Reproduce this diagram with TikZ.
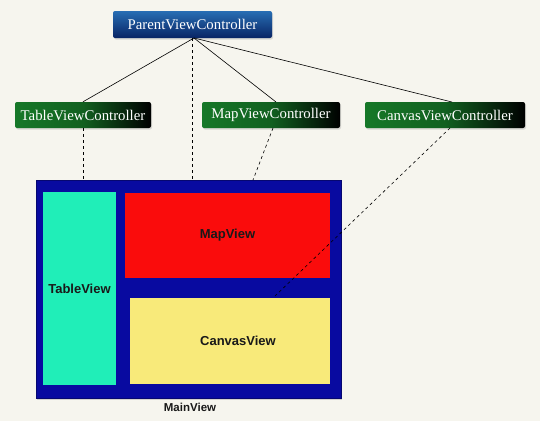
\documentclass[tikz,border=0pt]{standalone}
\usepackage{fontspec}
\setmainfont{Liberation Serif}
\setsansfont{Liberation Sans}
\usetikzlibrary{shadows}
\definecolor{bg}{RGB}{246,245,238}
\definecolor{frameblue}{RGB}{8,10,160}
\definecolor{mint}{RGB}{32,238,184}
\definecolor{mapred}{RGB}{250,12,12}
\definecolor{canvasyellow}{RGB}{248,234,122}
\definecolor{ptop}{RGB}{40,110,180}
\definecolor{pbot}{RGB}{8,36,100}
\definecolor{gleft}{RGB}{22,120,40}
\begin{document}
\begin{tikzpicture}[x=1pt,y=-1pt,
  ctrl/.style={rounded corners=2pt, text=white, font=\fontsize{14.8}{16}\selectfont,
    inner sep=0pt, drop shadow={opacity=0.25,shadow xshift=1pt,shadow yshift=-1.5pt}},
  parentbox/.style={ctrl, top color=ptop, bottom color=pbot},
  greenbox/.style={ctrl, left color=gleft, right color=black, middle color=gleft!80!black},
  link/.style={draw=black, line width=0.6pt},
  dlink/.style={draw=black, line width=0.6pt, dash pattern=on 3pt off 3pt},
  viewlabel/.style={font=\sffamily\bfseries\fontsize{13}{15}\selectfont, text=black!90},
]
\fill[bg] (0,0) rectangle (540,421);
\useasboundingbox (0,0) rectangle (540,421);

% controllers
\node[parentbox, minimum width=159pt, minimum height=27pt] (parent) at (192.5,24.5) {ParentViewController};
\node[greenbox, minimum width=136pt, minimum height=26pt] (tvc) at (83,115) {TableViewController};
\node[greenbox, minimum width=138pt, minimum height=26pt] (mvc) at (271,115) {MapViewController};
\node[greenbox, minimum width=160pt, minimum height=26pt] (cvc) at (445,115) {CanvasViewController};

% main view
\node[fill=frameblue, draw=frameblue!70!black, minimum width=305pt, minimum height=218pt, inner sep=0pt,
  drop shadow={opacity=0.3,shadow xshift=1pt,shadow yshift=-2pt}] (main) at (188.5,289) {};
\node[fill=mint, minimum width=73pt, minimum height=193pt, inner sep=0pt] (table) at (79.5,288.5) {};
\node[viewlabel] at (table.center) {TableView};
\node[fill=mapred, minimum width=205pt, minimum height=85pt, inner sep=0pt] (map) at (227.5,235.5) {};
\node[viewlabel] at (map.center) {MapView};
\node[fill=canvasyellow, minimum width=200pt, minimum height=86pt, inner sep=0pt] (canvas) at (230,341) {};
\node[viewlabel] at (238,341) {CanvasView};
\node[font=\sffamily\bfseries\fontsize{11.5}{13}\selectfont, text=black!90] (mainlbl) at (190,407) {MainView};

% connectors
\coordinate (pb) at (194,38);
\draw[link] (pb) -- (tvc.north);
\draw[link] (pb) -- (276,102);
\draw[link] (pb) -- (452,102);
\coordinate (mtop1) at (83,180);
\coordinate (mtop2) at (192,180);
\coordinate (mtop3) at (253,180);
\coordinate (cend) at (275,296);
\draw[dlink] (tvc.south -| mtop1) -- (mtop1);
\draw[dlink] (pb -| mtop2) -- (mtop2);
\draw[dlink] (273,128) -- (mtop3);
\draw[dlink] (450,128) -- (cend);
\end{tikzpicture}
\end{document}
